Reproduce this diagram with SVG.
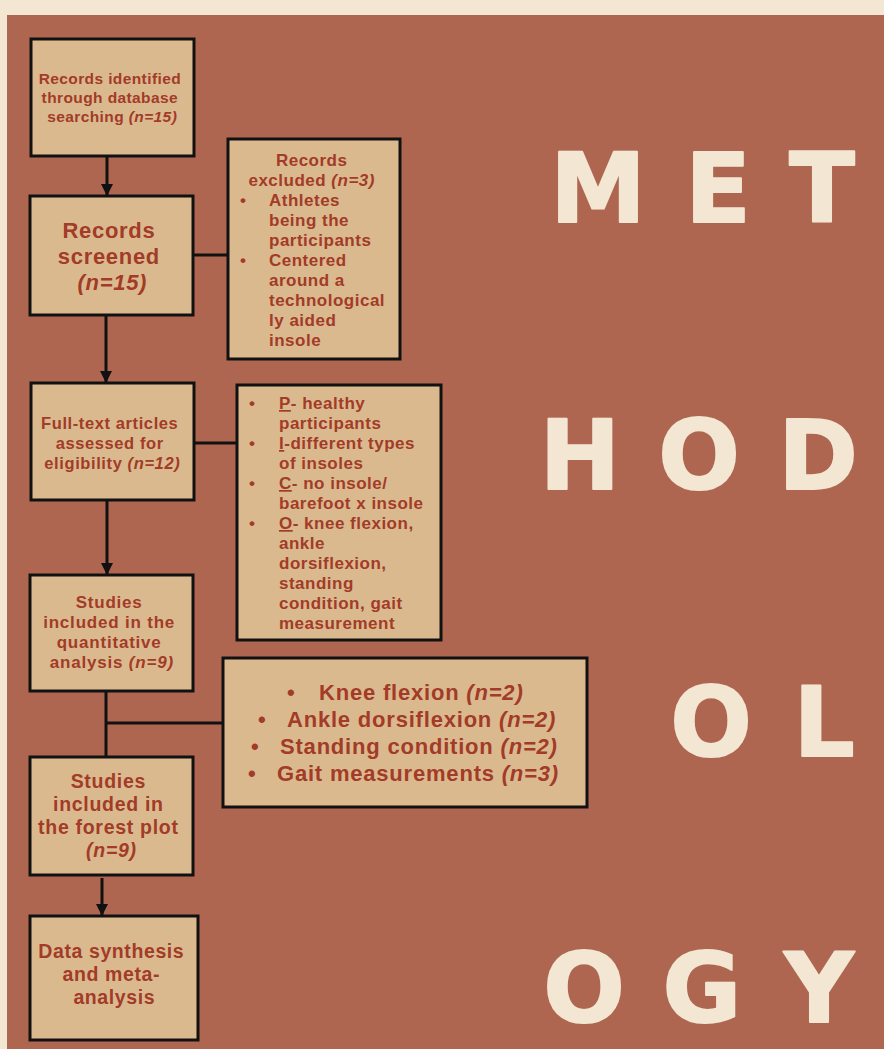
<svg xmlns="http://www.w3.org/2000/svg" width="884" height="1049" viewBox="0 0 884 1049">
<defs>
<style>
.box{fill:#dbb98f;stroke:#111;stroke-width:3}
.t{font-family:"Liberation Sans",Arial,sans-serif;font-weight:700;fill:#a23b27}
.c{text-anchor:middle}
.i{font-style:italic}
.u{text-decoration:underline}
.big{font-family:"DejaVu Sans","Liberation Sans",sans-serif;font-weight:700;font-size:96px;fill:#f3e7d3;stroke:#f3e7d3;stroke-width:2;stroke-linejoin:round;text-anchor:middle}
.ln{stroke:#111;stroke-width:3;fill:none}
</style>
<marker id="ah" viewBox="0 0 10 10" refX="10" refY="5" markerWidth="4" markerHeight="4" orient="auto" markerUnits="strokeWidth">
<path d="M0,0 L10,5 L0,10 z" fill="#111"/>
</marker>
</defs>
<rect x="0" y="0" width="884" height="1049" fill="#f3e7d3"/>
<rect x="7" y="15" width="877" height="1034" fill="#ae6650"/>

<g id="title">
<text class="big" x="598" y="222">M</text>
<text class="big" x="718" y="222">E</text>
<text class="big" x="822" y="222">T</text>
<text class="big" x="580" y="489">H</text>
<text class="big" x="699" y="489">O</text>
<text class="big" x="818" y="489">D</text>
<text class="big" x="711" y="756">O</text>
<text class="big" x="824" y="756">L</text>
<text class="big" x="584" y="1022">O</text>
<text class="big" x="702" y="1022">G</text>
<text class="big" x="819" y="1022">Y</text>
</g>

<g id="connectors">
<line class="ln" x1="107" y1="157" x2="107" y2="196" marker-end="url(#ah)"/>
<line class="ln" x1="106" y1="316" x2="106" y2="383" marker-end="url(#ah)"/>
<line class="ln" x1="107" y1="501" x2="107" y2="575" marker-end="url(#ah)"/>
<line class="ln" x1="106" y1="692" x2="106" y2="757"/>
<line class="ln" x1="106" y1="723" x2="223" y2="723"/>
<line class="ln" x1="102" y1="878" x2="102" y2="916" marker-end="url(#ah)"/>
<line class="ln" x1="193" y1="255" x2="228" y2="255"/>
<line class="ln" x1="194" y1="443" x2="237" y2="443"/>
</g>

<g id="n1">
<rect class="box" x="31" y="39" width="163" height="117"/>
<text class="t c" font-size="15.5" letter-spacing="0.4">
<tspan x="112.2" y="84">Records identified</tspan>
<tspan x="112.2" y="103">through database</tspan>
<tspan x="112.2" y="122">searching <tspan class="i">(n=15)</tspan></tspan>
</text>
</g>

<g id="n2">
<rect class="box" x="30" y="196" width="163" height="119"/>
<text class="t c" font-size="22" letter-spacing="0.7">
<tspan x="112.3" y="238">Records</tspan>
<tspan x="112.3" y="264">screened</tspan>
<tspan x="112.3" y="290" class="i">(n=15)</tspan>
</text>
</g>

<g id="n3">
<rect class="box" x="228" y="139" width="172" height="220"/>
<text class="t" font-size="17" letter-spacing="0.5">
<tspan x="314.3" y="166" text-anchor="middle">Records</tspan>
<tspan x="314.3" y="186" text-anchor="middle">excluded <tspan class="i">(n=3)</tspan></tspan>
<tspan x="240" y="206">•</tspan><tspan x="269" y="206">Athletes</tspan>
<tspan x="269" y="226">being the</tspan>
<tspan x="269" y="246">participants</tspan>
<tspan x="240" y="266">•</tspan><tspan x="269" y="266">Centered</tspan>
<tspan x="269" y="286">around a</tspan>
<tspan x="269" y="306">technological</tspan>
<tspan x="269" y="326">ly aided</tspan>
<tspan x="269" y="346">insole</tspan>
</text>
</g>

<g id="n4">
<rect class="box" x="31" y="383" width="163" height="117"/>
<text class="t c" font-size="16.5" letter-spacing="0.6">
<tspan x="112.3" y="429">Full-text articles</tspan>
<tspan x="112.3" y="449">assessed for</tspan>
<tspan x="112.3" y="469">eligibility <tspan class="i">(n=12)</tspan></tspan>
</text>
</g>

<g id="n5">
<rect class="box" x="237" y="385" width="204" height="255"/>
<text class="t" font-size="17" letter-spacing="0.5">
<tspan x="249" y="409">•</tspan><tspan x="279" y="409"><tspan class="u">P</tspan>- healthy</tspan>
<tspan x="279" y="429">participants</tspan>
<tspan x="249" y="449">•</tspan><tspan x="279" y="449"><tspan class="u">I</tspan>-different types</tspan>
<tspan x="279" y="469">of insoles</tspan>
<tspan x="249" y="489">•</tspan><tspan x="279" y="489"><tspan class="u">C</tspan>- no insole/</tspan>
<tspan x="279" y="509">barefoot x insole</tspan>
<tspan x="249" y="529">•</tspan><tspan x="279" y="529"><tspan class="u">O</tspan>- knee flexion,</tspan>
<tspan x="279" y="549">ankle</tspan>
<tspan x="279" y="569">dorsiflexion,</tspan>
<tspan x="279" y="589">standing</tspan>
<tspan x="279" y="609">condition, gait</tspan>
<tspan x="279" y="629">measurement</tspan>
</text>
</g>

<g id="n6">
<rect class="box" x="30" y="575" width="163" height="116"/>
<text class="t c" font-size="17" letter-spacing="0.8">
<tspan x="111.9" y="608">Studies</tspan>
<tspan x="111.9" y="628">included in the</tspan>
<tspan x="111.9" y="648">quantitative</tspan>
<tspan x="111.9" y="668">analysis <tspan class="i">(n=9)</tspan></tspan>
</text>
</g>

<g id="n7">
<rect class="box" x="223" y="658" width="364" height="149"/>
<text class="t" font-size="22" letter-spacing="0.8">
<tspan x="287" y="700">•</tspan><tspan x="319" y="700">Knee flexion <tspan class="i">(n=2)</tspan></tspan>
<tspan x="258" y="727">•</tspan><tspan x="287" y="727">Ankle dorsiflexion <tspan class="i">(n=2)</tspan></tspan>
<tspan x="251" y="754">•</tspan><tspan x="280" y="754">Standing condition <tspan class="i">(n=2)</tspan></tspan>
<tspan x="248" y="781">•</tspan><tspan x="277" y="781">Gait measurements <tspan class="i">(n=3)</tspan></tspan>
</text>
</g>

<g id="n8">
<rect class="box" x="30" y="757" width="163" height="118"/>
<text class="t c" font-size="19.5" letter-spacing="0.7">
<tspan x="111.4" y="788">Studies</tspan>
<tspan x="111.4" y="811">included in</tspan>
<tspan x="111.4" y="834">the forest plot</tspan>
<tspan x="111.4" y="857" class="i">(n=9)</tspan>
</text>
</g>

<g id="n9">
<rect class="box" x="30" y="916" width="168" height="124"/>
<text class="t c" font-size="19.5" letter-spacing="0.6">
<tspan x="114.3" y="958">Data synthesis</tspan>
<tspan x="114.3" y="981">and meta-</tspan>
<tspan x="114.3" y="1004">analysis</tspan>
</text>
</g>
</svg>
